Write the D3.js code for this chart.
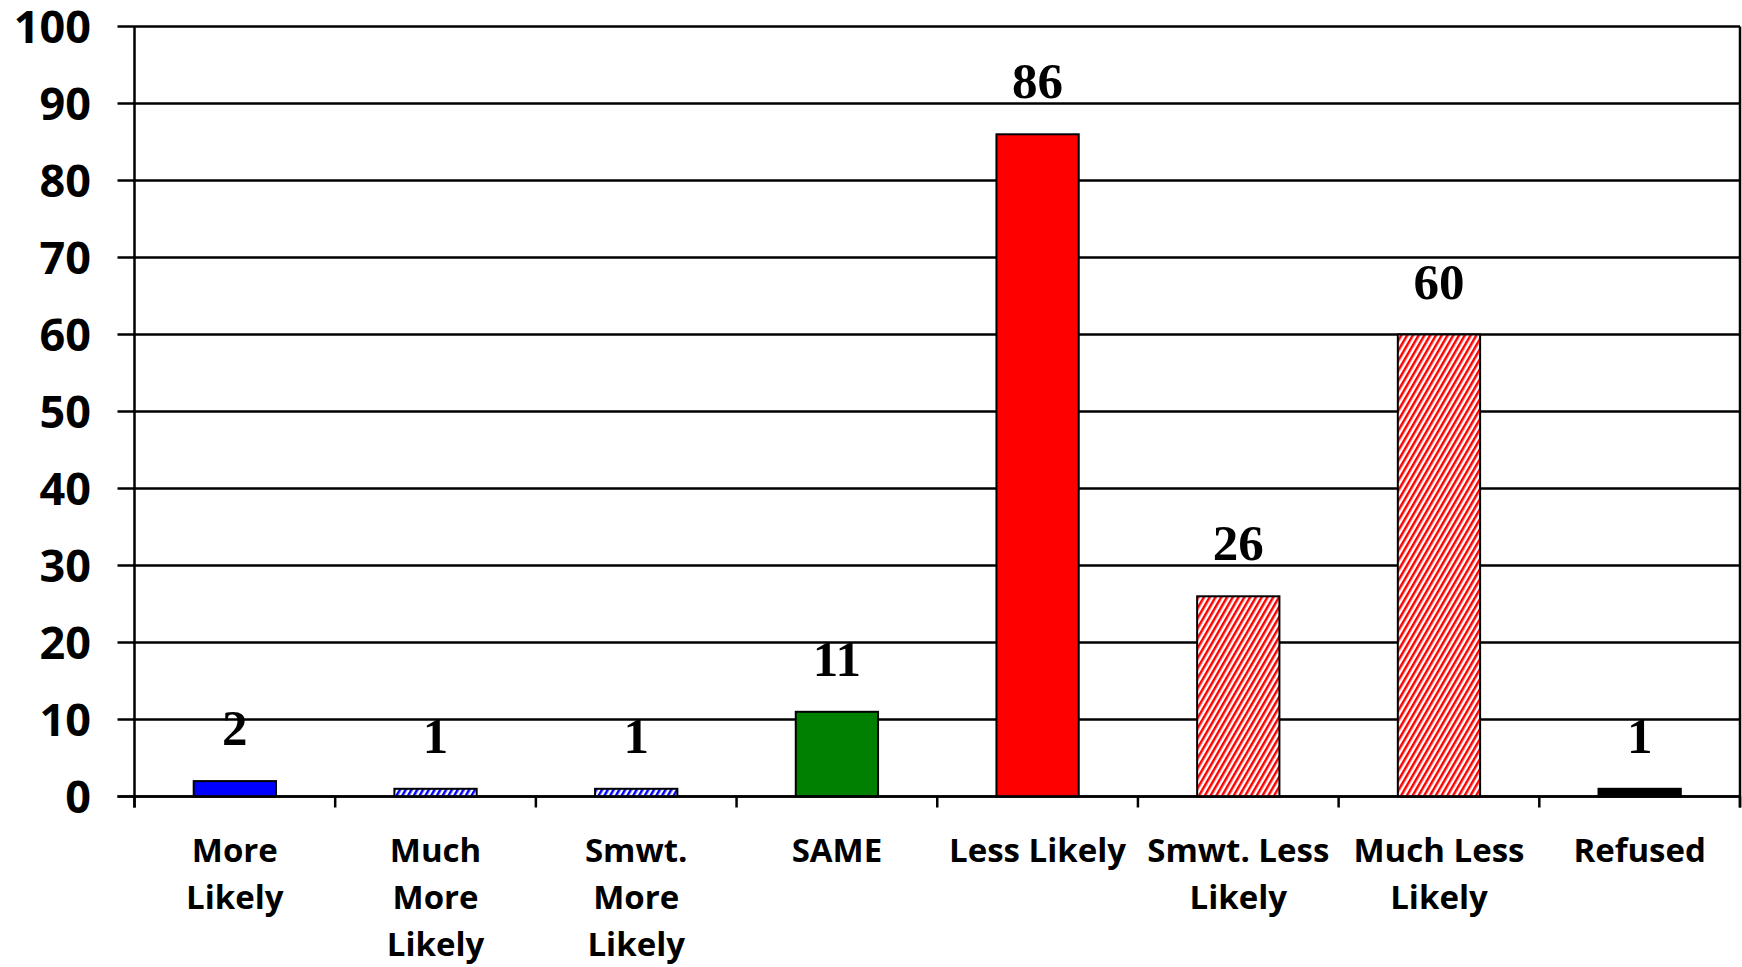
<!DOCTYPE html>
<html>
<head>
<meta charset="utf-8">
<script src="https://cdn.jsdelivr.net/npm/d3@7"></script>
<style>
html,body{margin:0;padding:0;background:#fff;}
svg{display:block;}
</style>
</head>
<body>
<svg id="chart" width="1742" height="967"></svg>
<script>
const categories = [
  ["More","Likely"],
  ["Much","More","Likely"],
  ["Smwt.","More","Likely"],
  ["SAME"],
  ["Less Likely"],
  ["Smwt. Less","Likely"],
  ["Much Less","Likely"],
  ["Refused"]
];
const values = [2, 1, 1, 11, 86, 26, 60, 1];
const fills = ["#0000FF","url(#hatchBlue)","url(#hatchBlue)","#008000","#FF0000","url(#hatchRed)","url(#hatchRed)","#000000"];
const yTicks = [0,10,20,30,40,50,60,70,80,90,100];

const svg = d3.select("#chart");
const m = {left:134.5, right:1740, top:26.5, bottom:796.5};

const defs = svg.append("defs");
function hatch(id, color, w){
  const p = defs.append("pattern").attr("id", id)
    .attr("patternUnits","userSpaceOnUse").attr("width", w).attr("height", w)
    .attr("patternTransform","rotate(30)");
  p.append("rect").attr("width", w).attr("height", w).attr("fill","#fff");
  p.append("rect").attr("width", w/2).attr("height", w).attr("fill", color);
}
hatch("hatchRed","#FF0000",5);
hatch("hatchBlue","#0000FF",5);

const x = d3.scaleBand().domain(d3.range(categories.length)).range([m.left, m.right]).padding(0);
const y = d3.scaleLinear().domain([0,100]).range([m.bottom, m.top]);

// gridlines + y ticks
svg.append("g").selectAll("line").data(yTicks).join("line")
  .attr("x1", m.left - 17).attr("x2", m.right)
  .attr("y1", d => y(d)).attr("y2", d => y(d))
  .attr("stroke","#000").attr("stroke-width",2.5);

// y labels
svg.append("g").selectAll("text").data(yTicks).join("text")
  .attr("x", 91).attr("y", d => y(d)).attr("dy","0.36em")
  .attr("text-anchor","end")
  .attr("font-family","Open Sans").attr("font-weight","bold").attr("font-size",45)
  .attr("fill","#000").text(d => d);

// bars
const bw = x.bandwidth()*0.41;
svg.append("g").selectAll("rect").data(values).join("rect")
  .attr("x", (d,i) => x(i) + (x.bandwidth()-bw)/2)
  .attr("y", d => y(d))
  .attr("width", bw)
  .attr("height", d => y(0) - y(d))
  .attr("fill", (d,i) => fills[i])
  .attr("stroke","#000").attr("stroke-width",2);

// axes lines
svg.append("line").attr("x1", m.left).attr("x2", m.left).attr("y1", m.top).attr("y2", m.bottom + 11)
  .attr("stroke","#000").attr("stroke-width",2.5);
svg.append("line").attr("x1", m.right).attr("x2", m.right).attr("y1", m.top).attr("y2", m.bottom + 11)
  .attr("stroke","#000").attr("stroke-width",2.5);
svg.append("line").attr("x1", m.left - 17).attr("x2", m.right).attr("y1", y(0)).attr("y2", y(0))
  .attr("stroke","#000").attr("stroke-width",2.5);

// x ticks at band boundaries
const bounds = d3.range(categories.length + 1).map(i => i < categories.length ? x(i) : m.right);
svg.append("g").selectAll("line").data(bounds).join("line")
  .attr("x1", d => d).attr("x2", d => d)
  .attr("y1", m.bottom).attr("y2", m.bottom + 11)
  .attr("stroke","#000").attr("stroke-width",2.5);

// value labels
svg.append("g").selectAll("text").data(values).join("text")
  .attr("x", (d,i) => x(i) + x.bandwidth()/2)
  .attr("y", d => y(d) - 36)
  .attr("text-anchor","middle")
  .attr("font-family","Liberation Serif").attr("font-weight","bold").attr("font-size",51)
  .attr("fill","#000").text(d => d);

// category labels
const cg = svg.append("g");
categories.forEach((lines, i) => {
  const t = cg.append("text")
    .attr("text-anchor","middle")
    .attr("font-family","Open Sans").attr("font-weight","bold").attr("font-size",33)
    .attr("fill","#000");
  lines.forEach((ln, j) => {
    t.append("tspan").attr("x", x(i) + x.bandwidth()/2).attr("y", 862 + j*47).text(ln);
  });
});
</script>
</body>
</html>
